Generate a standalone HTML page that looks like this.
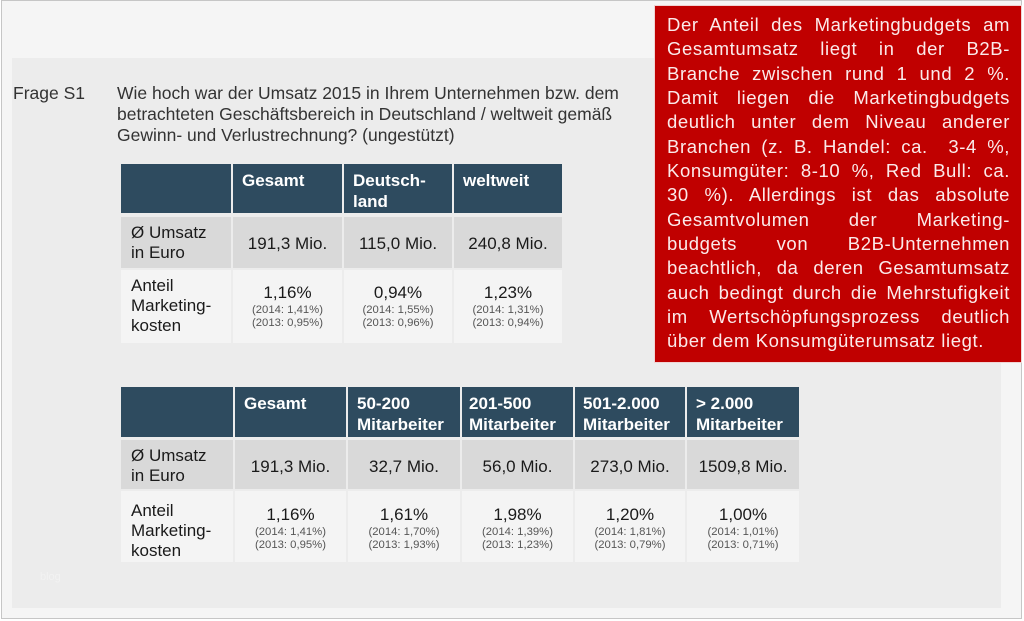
<!DOCTYPE html>
<html><head><meta charset="utf-8">
<style>
*{margin:0;padding:0;box-sizing:border-box}
html,body{width:1024px;height:621px;overflow:hidden;background:#ffffff;font-family:"Liberation Sans",Arial,sans-serif}
.abs{position:absolute}
#frame{left:1px;top:0;width:1021px;height:619px;border:1px solid #c6c6c6;background:#f5f5f5}
#panel{left:12px;top:58px;width:989px;height:550px;background:#ececec}
.txt{color:#333;font-size:17.5px;line-height:21px;white-space:nowrap}
.h{background:#2e4b5f}
.r2{background:#d9d9d9}
.r3{background:#f4f4f4}
.ht{color:#fff;font-weight:bold;font-size:17px;line-height:21px;white-space:nowrap}
.lab{color:#1a1a1a;font-size:17px;line-height:20px;white-space:nowrap}
.val{color:#1a1a1a;font-size:17px;line-height:20px;text-align:center;white-space:nowrap}
.sm{color:#555;font-size:11.3px;line-height:13px;text-align:center;white-space:nowrap}
#red{left:655px;top:6px;width:366px;height:356px;background:#c00000;box-shadow:0 0 0 1px #f0d4d4}
.rl{position:absolute;left:667px;width:343px;color:#fbeaea;font-size:18.5px;line-height:24.36px;letter-spacing:0.6px;text-align:justify;text-align-last:justify}
</style></head><body>
<div id="frame" class="abs"></div>
<div id="panel" class="abs"></div>

<div class="abs txt" style="left:13px;top:83.4px">Frage S1</div>
<div class="abs txt" style="left:117px;top:83.4px">Wie hoch war der Umsatz 2015 in Ihrem Unternehmen bzw. dem<br>betrachteten Geschäftsbereich in Deutschland / weltweit gemäß<br>Gewinn- und Verlustrechnung? (ungestützt)</div>

<!-- Table 1 -->
<div class="abs h" style="left:121px;top:164px;width:110px;height:49px"></div>
<div class="abs h" style="left:233px;top:164px;width:109px;height:49px"></div>
<div class="abs h" style="left:344px;top:164px;width:108px;height:49px"></div>
<div class="abs h" style="left:454px;top:164px;width:108px;height:49px"></div>
<div class="abs r2" style="left:121px;top:217px;width:110px;height:51px"></div>
<div class="abs r2" style="left:233px;top:217px;width:109px;height:51px"></div>
<div class="abs r2" style="left:344px;top:217px;width:108px;height:51px"></div>
<div class="abs r2" style="left:454px;top:217px;width:108px;height:51px"></div>
<div class="abs r3" style="left:121px;top:270px;width:110px;height:73px"></div>
<div class="abs r3" style="left:233px;top:270px;width:109px;height:73px"></div>
<div class="abs r3" style="left:344px;top:270px;width:108px;height:73px"></div>
<div class="abs r3" style="left:454px;top:270px;width:108px;height:73px"></div>

<div class="abs ht" style="left:242px;top:169.6px">Gesamt</div>
<div class="abs ht" style="left:353px;top:169.6px">Deutsch-<br>land</div>
<div class="abs ht" style="left:463px;top:169.6px">weltweit</div>

<div class="abs lab" style="left:131px;top:223.1px">Ø Umsatz<br>in Euro</div>
<div class="abs val" style="left:233px;width:109px;top:233.6px">191,3 Mio.</div>
<div class="abs val" style="left:344px;width:108px;top:233.6px">115,0 Mio.</div>
<div class="abs val" style="left:454px;width:108px;top:233.6px">240,8 Mio.</div>

<div class="abs lab" style="left:131px;top:275.5px">Anteil<br>Marketing-<br>kosten</div>
<div class="abs val" style="left:233px;width:109px;top:283.1px">1,16%</div>
<div class="abs sm" style="left:233px;width:109px;top:303.6px">(2014: 1,41%)<br>(2013: 0,95%)</div>
<div class="abs val" style="left:344px;width:108px;top:283.1px">0,94%</div>
<div class="abs sm" style="left:344px;width:108px;top:303.6px">(2014: 1,55%)<br>(2013: 0,96%)</div>
<div class="abs val" style="left:454px;width:108px;top:283.1px">1,23%</div>
<div class="abs sm" style="left:454px;width:108px;top:303.6px">(2014: 1,31%)<br>(2013: 0,94%)</div>

<!-- Table 2 -->
<div class="abs h" style="left:121px;top:387px;width:112px;height:50px"></div>
<div class="abs h" style="left:235px;top:387px;width:111px;height:50px"></div>
<div class="abs h" style="left:348px;top:387px;width:112px;height:50px"></div>
<div class="abs h" style="left:462px;top:387px;width:111px;height:50px"></div>
<div class="abs h" style="left:575px;top:387px;width:110px;height:50px"></div>
<div class="abs h" style="left:687px;top:387px;width:112px;height:50px"></div>
<div class="abs r2" style="left:121px;top:440px;width:112px;height:49px"></div>
<div class="abs r2" style="left:235px;top:440px;width:111px;height:49px"></div>
<div class="abs r2" style="left:348px;top:440px;width:112px;height:49px"></div>
<div class="abs r2" style="left:462px;top:440px;width:111px;height:49px"></div>
<div class="abs r2" style="left:575px;top:440px;width:110px;height:49px"></div>
<div class="abs r2" style="left:687px;top:440px;width:112px;height:49px"></div>
<div class="abs r3" style="left:121px;top:491px;width:112px;height:71px"></div>
<div class="abs r3" style="left:235px;top:491px;width:111px;height:71px"></div>
<div class="abs r3" style="left:348px;top:491px;width:112px;height:71px"></div>
<div class="abs r3" style="left:462px;top:491px;width:111px;height:71px"></div>
<div class="abs r3" style="left:575px;top:491px;width:110px;height:71px"></div>
<div class="abs r3" style="left:687px;top:491px;width:112px;height:71px"></div>

<div class="abs ht" style="left:244px;top:392.6px">Gesamt</div>
<div class="abs ht" style="left:357px;top:392.6px">50-200<br>Mitarbeiter</div>
<div class="abs ht" style="left:469px;top:392.6px">201-500<br>Mitarbeiter</div>
<div class="abs ht" style="left:583px;top:392.6px">501-2.000<br>Mitarbeiter</div>
<div class="abs ht" style="left:696px;top:392.6px">&gt; 2.000<br>Mitarbeiter</div>

<div class="abs lab" style="left:131px;top:446.1px">Ø Umsatz<br>in Euro</div>
<div class="abs val" style="left:235px;width:111px;top:456.8px">191,3 Mio.</div>
<div class="abs val" style="left:348px;width:112px;top:456.8px">32,7 Mio.</div>
<div class="abs val" style="left:462px;width:111px;top:456.8px">56,0 Mio.</div>
<div class="abs val" style="left:575px;width:110px;top:456.8px">273,0 Mio.</div>
<div class="abs val" style="left:687px;width:112px;top:456.8px">1509,8 Mio.</div>

<div class="abs lab" style="left:131px;top:500.5px">Anteil<br>Marketing-<br>kosten</div>
<div class="abs val" style="left:235px;width:111px;top:505.1px">1,16%</div>
<div class="abs sm" style="left:235px;width:111px;top:525.6px">(2014: 1,41%)<br>(2013: 0,95%)</div>
<div class="abs val" style="left:348px;width:112px;top:505.1px">1,61%</div>
<div class="abs sm" style="left:348px;width:112px;top:525.6px">(2014: 1,70%)<br>(2013: 1,93%)</div>
<div class="abs val" style="left:462px;width:111px;top:505.1px">1,98%</div>
<div class="abs sm" style="left:462px;width:111px;top:525.6px">(2014: 1,39%)<br>(2013: 1,23%)</div>
<div class="abs val" style="left:575px;width:110px;top:505.1px">1,20%</div>
<div class="abs sm" style="left:575px;width:110px;top:525.6px">(2014: 1,81%)<br>(2013: 0,79%)</div>
<div class="abs val" style="left:687px;width:112px;top:505.1px">1,00%</div>
<div class="abs sm" style="left:687px;width:112px;top:525.6px">(2014: 1,01%)<br>(2013: 0,71%)</div>

<div class="abs" style="left:40px;top:571px;font-size:11px;color:#f2f2f2">blog</div>

<!-- Red box -->
<div id="red" class="abs"></div>
<div class="rl" style="top:12.8px">Der Anteil des Marketingbudgets am</div>
<div class="rl" style="top:37.16px">Gesamtumsatz liegt in der B2B-</div>
<div class="rl" style="top:61.52px">Branche zwischen rund 1 und 2 %.</div>
<div class="rl" style="top:85.88px">Damit liegen die Marketingbudgets</div>
<div class="rl" style="top:110.24px">deutlich unter dem Niveau anderer</div>
<div class="rl" style="top:134.6px">Branchen (z. B. Handel: ca.&nbsp; 3-4 %,</div>
<div class="rl" style="top:158.96px">Konsumgüter: 8-10 %, Red Bull: ca.</div>
<div class="rl" style="top:183.32px">30 %). Allerdings ist das absolute</div>
<div class="rl" style="top:207.68px">Gesamtvolumen der Marketing-</div>
<div class="rl" style="top:232.04px">budgets von B2B-Unternehmen</div>
<div class="rl" style="top:256.4px">beachtlich, da deren Gesamtumsatz</div>
<div class="rl" style="top:280.76px">auch bedingt durch die Mehrstufigkeit</div>
<div class="rl" style="top:305.12px">im Wertschöpfungsprozess deutlich</div>
<div class="rl" style="top:329.48px;text-align:left;text-align-last:left">über dem Konsumgüterumsatz liegt.</div>
</body></html>
